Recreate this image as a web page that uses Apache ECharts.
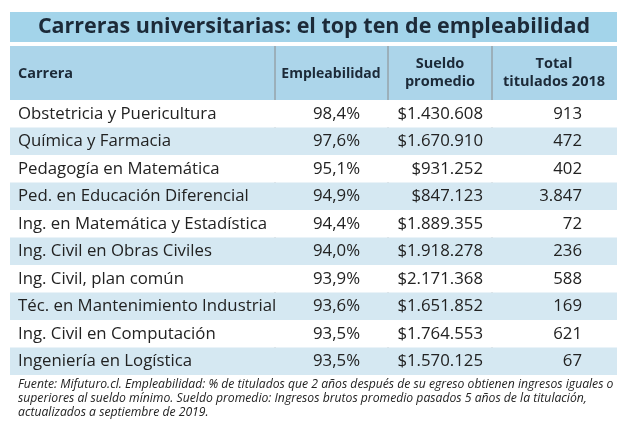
<!DOCTYPE html>
<html><head><meta charset="utf-8">
<script src="https://cdn.jsdelivr.net/npm/echarts@6/dist/echarts.min.js"></script>
<style>html,body{margin:0;padding:0;background:#fff}#c{width:633px;height:424px}</style>
</head><body><div id="c"></div>
<script>
const titleText = 'Carreras universitarias: el top ten de empleabilidad';
const headers = ['Carrera', 'Empleabilidad', 'Sueldo\npromedio', 'Total\ntitulados 2018'];
const carreras = ['Obstetricia y Puericultura','Química y Farmacia','Pedagogía en Matemática','Ped. en Educación Diferencial','Ing. en Matemática y Estadística','Ing. Civil en Obras Civiles','Ing. Civil, plan común','Téc. en Mantenimiento Industrial','Ing. Civil en Computación','Ingeniería en Logística'];
const empleabilidad = ['98,4%','97,6%','95,1%','94,9%','94,4%','94,0%','93,9%','93,6%','93,5%','93,5%'];
const sueldo = ['$1.430.608','$1.670.910','$931.252','$847.123','$1.889.355','$1.918.278','$2.171.368','$1.651.852','$1.764.553','$1.570.125'];
const titulados = ['913','472','402','3.847','72','236','588','169','621','67'];
const footnote = 'Fuente: Mifuturo.cl. Empleabilidad: % de titulados que 2 años después de su egreso obtienen ingresos iguales o\nsuperiores al sueldo mínimo. Sueldo promedio: Ingresos brutos promedio pasados 5 años de la titulación,\nactualizados a septiembre de 2019.';

const FONT = 'Open Sans';
const edges = [0, 265, 378, 482, 607];
const rightAlign = [null, 350, 473, 572];

const chart = echarts.init(document.getElementById('c'));
const rows = carreras.map((c, i) => [i, c, empleabilidad[i], sueldo[i], titulados[i]]);
chart.setOption({
  animation: false,
  grid: [{ left: 10, right: 16, top: 100, height: 275 }],
  xAxis: { type: 'value', min: 0, max: 607, show: false },
  yAxis: { type: 'category', data: carreras, inverse: true, show: false },
  graphic: [
    { type: 'rect', shape: { x: 10, y: 12, width: 607, height: 30 }, style: { fill: '#a3d4ea' } },
    { type: 'text', x: 314, y: 27, style: { text: titleText, font: 'bold 21.5px "' + FONT + '"', fill: '#1c2a38', align: 'center', verticalAlign: 'middle' } },
    { type: 'rect', shape: { x: 10, y: 46, width: 607, height: 54 }, style: { fill: '#acd5ea' } },
    { type: 'text', x: 18, y: 74, style: { text: headers[0], font: 'bold 14.5px "' + FONT + '"', fill: '#1c2a38', verticalAlign: 'middle' } },
    { type: 'text', x: 331, y: 74, style: { text: headers[1], font: 'bold 14px "' + FONT + '"', fill: '#1c2a38', align: 'center', verticalAlign: 'middle' } },
    { type: 'text', x: 440, y: 73, style: { text: headers[2], font: 'bold 14.5px "' + FONT + '"', lineHeight: 18, fill: '#1c2a38', align: 'center', verticalAlign: 'middle' } },
    { type: 'text', x: 554, y: 73, style: { text: headers[3], font: 'bold 14.5px "' + FONT + '"', lineHeight: 18, fill: '#1c2a38', align: 'center', verticalAlign: 'middle' } },
    { type: 'line', shape: { x1: 275, y1: 46, x2: 275, y2: 375 }, style: { stroke: '#8a8a8a', lineWidth: 1 } },
    { type: 'line', shape: { x1: 388, y1: 46, x2: 388, y2: 375 }, style: { stroke: '#8a8a8a', lineWidth: 1 } },
    { type: 'line', shape: { x1: 492, y1: 46, x2: 492, y2: 375 }, style: { stroke: '#8a8a8a', lineWidth: 1 } },
    { type: 'text', x: 18, y: 378, style: { text: footnote, font: 'italic 12.2px "' + FONT + '"', lineHeight: 14, fill: '#222' } }
  ],
  series: [{
    type: 'custom',
    data: rows,
    encode: { x: -1, y: 1 },
    z: 1,
    renderItem: function (params, api) {
      const i = api.value(0);
      const top = api.coord([0, i]);
      const bh = api.size([0, 1])[1];
      const x0 = api.coord([edges[0], i])[0];
      const x1 = api.coord([edges[4], i])[0];
      const cy = top[1];
      const children = [{
        type: 'rect', shape: { x: x0, y: cy - bh / 2, width: x1 - x0, height: bh },
        style: { fill: i % 2 === 1 ? '#d5e8f2' : '#ffffff' }, z2: -1
      }];
      children.push({ type: 'text', x: x0 + 8, y: cy, style: { text: rows[i][1], font: '16.8px "' + FONT + '"', fill: '#222', verticalAlign: 'middle' } });
      for (let k = 1; k <= 3; k++) {
        children.push({ type: 'text', x: api.coord([rightAlign[k], i])[0], y: cy, style: { text: rows[i][k + 1], font: '16.8px "' + FONT + '"', fill: '#222', align: 'right', verticalAlign: 'middle' } });
      }
      return { type: 'group', children: children };
    }
  }]
});
</script></body></html>
